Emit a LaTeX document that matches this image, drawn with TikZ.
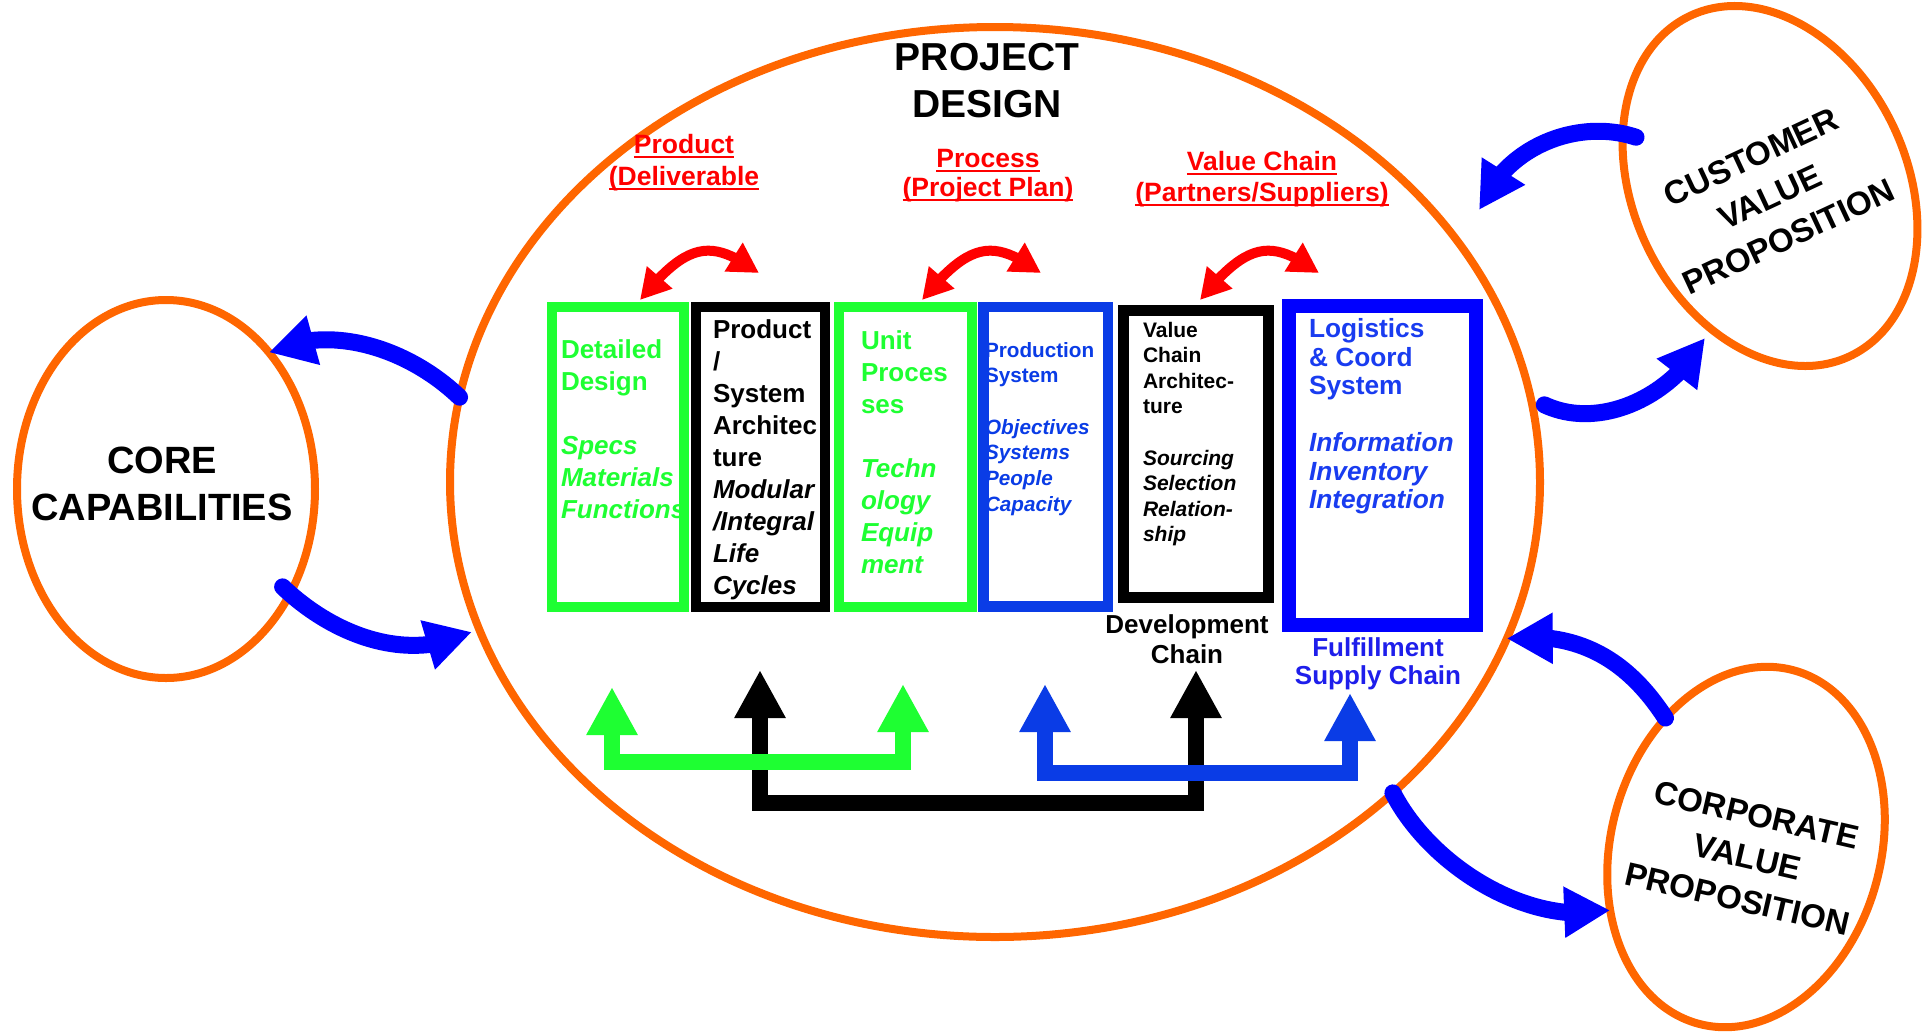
\documentclass[tikz,border=0pt]{standalone}
\usepackage{fontspec}
\setmainfont{Liberation Sans}
\usetikzlibrary{arrows.meta,bending,shapes.geometric,calc}
\definecolor{lgreen}{RGB}{30,255,50}
\definecolor{mblue}{RGB}{10,60,230}
\definecolor{pblue}{RGB}{0,0,255}
\definecolor{tblue}{RGB}{25,60,240}
\definecolor{fblue}{RGB}{30,30,235}
\definecolor{orng}{RGB}{255,102,0}
\definecolor{rred}{RGB}{255,0,0}
\newsavebox\ulbox
\newcommand{\redul}[1]{\sbox\ulbox{#1}\rlap{\rule[-5pt]{\wd\ulbox}{2.5pt}}\usebox\ulbox}
\newcommand{\fls}{\rule{0pt}{0.9em}}
\begin{document}
\begin{tikzpicture}[x=1pt,y=-1pt,
  oval/.style={ellipse, draw=orng, line width=8pt, inner sep=0pt, outer sep=0pt},
  boxx/.style={rectangle, inner sep=0pt, outer sep=0pt, anchor=north west},
  txt/.style={inner sep=0pt, outer sep=0pt, anchor=north west, align=left},
  ctxt/.style={inner sep=0pt, outer sep=0pt, anchor=north, align=center},
  bigarrow/.style={draw=pblue, line width=17pt, line cap=round, -{Triangle[length=46pt,width=48pt]}},
  redarrow/.style={draw=rred, line width=10pt, {Triangle[length=30pt,width=32pt,flex]}-{Triangle[length=30pt,width=32pt,flex]}},
  conn/.style={line width=16pt, line join=miter, {Triangle[length=48pt,width=48pt]}-{Triangle[length=48pt,width=48pt]}},
  boxfont/.style={font={\bfseries\fontsize{26}{32}\selectfont}},
  ovalfont/.style={font={\bfseries\fontsize{33}{44}\selectfont}, align=center, inner sep=0pt}
]
\fill[white] (0,0) rectangle (1929,1031);
\useasboundingbox (0,0) rectangle (1929,1031);

% ellipses
\node[oval, minimum width=1090pt, minimum height=910pt] (pd) at (995,482) {};
\node[oval, minimum width=298pt, minimum height=378pt] (core) at (166,489) {};
\node[oval, rotate=25, minimum width=274pt, minimum height=376pt] (cust) at (1770,186) {};
\node[oval, rotate=-15, minimum width=270pt, minimum height=366pt] (corp) at (1746,847) {};

% ellipse texts
\node[ctxt, font={\bfseries\fontsize{39}{47}\selectfont}] (title) at (987,34.9) {\fls PROJECT\\DESIGN};
\node[ctxt, font={\bfseries\fontsize{38}{47}\selectfont}] (coretxt) at (162,438.8) {\fls CORE\\CAPABILITIES};
\node[ovalfont, rotate=25] (custtxt) at (1770,197) {CUSTOMER\\VALUE\\PROPOSITION};
\node[ovalfont, rotate=-13, font={\bfseries\fontsize{33}{43}\selectfont}] (corptxt) at (1747,857) {CORPORATE\\VALUE\\PROPOSITION};

% red headings
\node[ctxt, text=rred, font={\bfseries\fontsize{26.5}{29}\selectfont}] (h1) at (684,129.2) {\fls\redul{Product}\\[3pt]\redul{(Deliverable}};
\node[ctxt, text=rred, font={\bfseries\fontsize{26.5}{29}\selectfont}] (h2) at (988,143.2) {\fls\redul{Process}\\\redul{(Project Plan)}};
\node[ctxt, text=rred, font={\bfseries\fontsize{26.5}{29}\selectfont}] (h3) at (1262,146.2) {\fls\redul{Value Chain}\\[2pt]\redul{(Partners/Suppliers)}};

% box texts
\node[txt, boxfont, text=lgreen] (t1) at (561,334.6) {\fls Detailed\\Design\\[32pt]\textit{Specs}\\\textit{Materials}\\\textit{Functions}};
\node[txt, boxfont, text=black] (t2) at (713,314.6) {\fls Product\\/\\System\\Architec\\ture\\\textit{Modular}\\\textit{/Integral}\\\textit{Life}\\\textit{Cycles}};
\node[txt, boxfont, text=lgreen] (t3) at (861,325.6) {\fls Unit\\Proces\\ses\\[32pt]\textit{Techn}\\\textit{ology}\\\textit{Equip}\\\textit{ment}};
\node[txt, text=mblue, font={\bfseries\fontsize{20.7}{25.7}\selectfont}] (t4) at (985,338.4) {\fls Production\\System\\[25.7pt]\textit{Objectives}\\\textit{Systems}\\\textit{People}\\\textit{Capacity}};
\node[txt, text=black, font={\bfseries\fontsize{21}{25.6}\selectfont}] (t5) at (1143,318.1) {\fls Value\\Chain\\Architec-\\ture\\[25.6pt]\textit{Sourcing}\\\textit{Selection}\\\textit{Relation-}\\\textit{ship}};
\node[txt, text=tblue, font={\bfseries\fontsize{26.3}{28.5}\selectfont}] (t6) at (1309,314.3) {\fls Logistics\\\& Coord\\System\\[28.5pt]\textit{Information}\\\textit{Inventory}\\\textit{Integration}};

% boxes
\node[boxx, draw=lgreen, line width=10pt, minimum width=132pt, minimum height=300pt] (b1) at (552,307) {};
\node[boxx, draw=black, line width=10pt, minimum width=129pt, minimum height=300pt] (b2) at (696,307) {};
\node[boxx, draw=lgreen, line width=10pt, minimum width=133pt, minimum height=300pt] (b3) at (839,307) {};
\node[boxx, draw=mblue, line width=10.5pt, minimum width=124.5pt, minimum height=299.5pt] (b4) at (983.5,307) {};
\node[boxx, draw=black, line width=11pt, minimum width=144.5pt, minimum height=287.5pt] (b5) at (1123.5,310) {};
\node[boxx, draw=pblue, line width=14pt, minimum width=187pt, minimum height=319.5pt] (b6) at (1289,305.5) {};

% labels under boxes
\node[ctxt, text=black, font={\bfseries\fontsize{26}{30}\selectfont}] (dev) at (1187,609.6) {\fls Development\\Chain};
\node[ctxt, text=fblue, font={\bfseries\fontsize{26}{28}\selectfont}] (ful) at (1378,632.6) {\fls Fulfillment\\Supply Chain};

% red double arrows
\coordinate (r1a) at (640,300); \coordinate (r1b) at (759,273);
\coordinate (r2a) at (922,300); \coordinate (r2b) at (1041,273);
\coordinate (r3a) at (1200,300); \coordinate (r3b) at (1319,273);
\draw[redarrow] (r1a) .. controls +(50,-62) and +(-45,-32) .. (r1b);
\draw[redarrow] (r2a) .. controls +(50,-62) and +(-45,-32) .. (r2b);
\draw[redarrow] (r3a) .. controls +(50,-62) and +(-45,-32) .. (r3b);

% bottom connectors
\coordinate (kA) at (760,670); \coordinate (kB) at (1196,670);
\coordinate (gA) at (612,687); \coordinate (gB) at (903,684);
\coordinate (uA) at (1045,684); \coordinate (uB) at (1350,693);
\draw[conn, draw=black] (kA) -- ++(0,133) -| (kB);
\draw[conn, draw=lgreen] (gA) -- ++(0,75) -| (gB);
\draw[conn, draw=mblue] (uA) -- ++(0,89) -| (uB);

% blue curved arrows
\coordinate (custIn) at (1479,210);
\coordinate (custOut) at (1705,338);
\draw[bigarrow] (pd.171) .. controls +(-50,-48) and +(62,-30) .. (core.53);
\draw[bigarrow] ($(core.-40)!10pt!(core.center)$) .. controls +(47,45) and +(-68,33) .. ($(pd.196)!-8pt!(pd.center)$);
\draw[bigarrow] ($(cust.135)!14pt!(cust.center)$) .. controls +(-57,-19) and +(26,-65) .. (custIn);
\draw[bigarrow] ($(pd.8)!-12pt!(pd.center)$) .. controls +(53,25) and +(-35,62) .. (custOut);
\draw[bigarrow] (corp.137) .. controls +(-28,-43) and +(85,-10) .. (pd.-17);
\draw[bigarrow] (pd.-38) .. controls +(37,72) and +(-83,17) .. (corp.220);
\end{tikzpicture}
\end{document}
